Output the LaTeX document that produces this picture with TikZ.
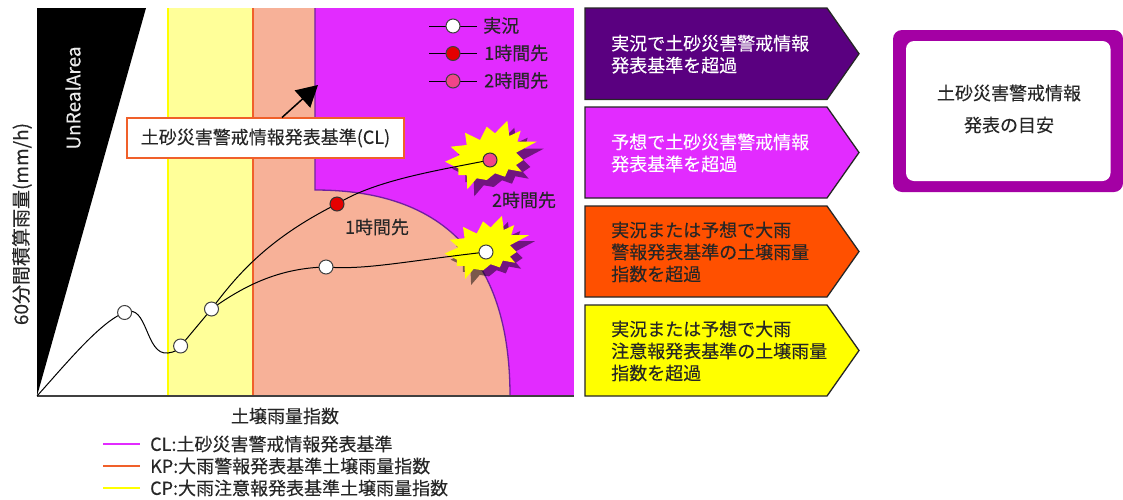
\documentclass[tikz,border=0pt]{standalone}
\usepackage{fontspec}
\setmainfont[FakeBold=0.15]{Noto Sans CJK JP}
\usetikzlibrary{arrows.meta,calc}
\pgfdeclarelayer{bg}
\pgfdeclarelayer{stars}
\pgfdeclarelayer{curves}
\pgfsetlayers{bg,stars,curves,main}
\definecolor{cMag}{HTML}{E22BFF}
\definecolor{cSal}{HTML}{F7B198}
\definecolor{cLY}{HTML}{FFFF99}
\definecolor{cY}{HTML}{FFFF00}
\definecolor{cOr}{HTML}{FF5000}
\definecolor{cDP}{HTML}{5A0080}
\definecolor{cBox}{HTML}{A400A4}
\definecolor{cTxt}{HTML}{262626}
\definecolor{cEdge}{HTML}{7020A0}
\definecolor{cLine}{HTML}{F0602A}
\newcommand{\burst}{(-25,-27.3)--(-10,-20)--(-3.3,-33.3)--(5,-26.7)--(17.3,-39.3)--(19.3,-24)--(30.7,-29.3)--(27.3,-18.3)--(46.7,-18.3)--(26,-7.3)--(33.3,0)--(26,5)--(31.7,11.7)--(18.3,9.3)--(15,16.7)--(5,13.3)--(-3.3,20)--(-13.3,18.3)--(-22.7,29.3)--(-23.3,15)--(-31.7,15)--(-31.7,8.3)--(-45,1.7)--(-30,-5)--(-39.3,-13.3)--(-23.3,-15)--cycle}
\newcommand{\chevron}[5]{%
  \path[draw=black!85,line width=1.3pt,fill=#3] (585,#1)--(827,#1)--(859,{(#1+#2)/2})--(827,#2)--(585,#2)--cycle;
  \node[arrowtxt,text=#4] (#5) at (611,{(#1+#2)/2+0.5})}
\tikzset{
  txt/.style={inner sep=0pt,font=\fontsize{18}{22}\selectfont,text=cTxt},
  arrowtxt/.style={txt,anchor=west,align=left},
  ptw/.style={circle,draw=black!75,line width=1pt,fill=white,minimum size=14pt,inner sep=0pt},
  ptr/.style={ptw,fill=red!90!black,draw=black!80},
  ptp/.style={ptw,fill=magenta!70!red!75!white,draw=black!80},
  curveline/.style={draw=black,line width=1pt},
  burstyl/.style={fill=cY},
  burstsh/.style={fill=black,fill opacity=.5},
  lgline/.style={line width=2.4pt},
  smallpt/.style={ptw,minimum size=14pt}
}
\begin{document}
\begin{tikzpicture}[x=1pt,y=-1pt]
\useasboundingbox (0,0) rectangle (1123,499);
\begin{pgfonlayer}{bg}
  \fill[white] (0,0) rectangle (1123,499);
  \fill[cLY] (168,8) rectangle (253,396);
  \fill[cMag] (253,8) rectangle (574,396);
  \fill[cSal] (253,8) -- (315,8) -- (315,190) .. controls (425,190) and (510,240) .. (510,396) -- (253,396) -- cycle;
  \draw[cY,line width=1.5pt] (168,8) -- (168,396);
  \draw[cLine,line width=1.5pt] (253,8) -- (253,396);
  \draw[cEdge,line width=1.3pt] (315,8) -- (315,190) .. controls (425,190) and (510,240) .. (510,396);
  \fill[black] (37,8) -- (146,8) -- (37,396) -- cycle;
  \draw[black!75,line width=1.5pt] (37,396) -- (574,396);
\end{pgfonlayer}
\begin{pgfonlayer}{stars}
  \begin{scope}[shift={(497,167)}]\path[burstsh] \burst;\end{scope}
  \begin{scope}[shift={(490,160)}]\path[burstyl] \burst;\end{scope}
  \begin{scope}[shift={(492,258)},scale=.92]\path[burstsh] \burst;\end{scope}
  \begin{scope}[shift={(486,252)},scale=.92]\path[burstyl] \burst;\end{scope}
\end{pgfonlayer}
% points
\coordinate (o) at (37,396);
\node[ptw] (p1) at (124.6,312.5) {};
\node[ptw] (p2) at (180.6,346) {};
\node[ptw] (p3) at (211.5,309) {};
\node[ptw] (p4) at (326,267) {};
\node[ptw] (p5) at (486,252) {};
\node[ptr] (p6) at (337,204) {};
\node[ptp] (p7) at (490,160) {};
\begin{pgfonlayer}{curves}
  \draw[curveline] (o) .. controls (65,365) and (100,322) .. (p1.center)
     .. controls (148,302) and (145,356) .. (168,353)
     .. controls (175,352) and (178,350) .. (p2.center);
  \draw[curveline] (p2.center) -- (p3.center);
  \draw[curveline] (p3.center) .. controls (235,278) and (265,240) .. (p6.center);
  \draw[curveline] (p6.center) .. controls (375,180) and (440,170) .. (p7.center);
  \draw[curveline] (p3.center) .. controls (245,285) and (280,268) .. (p4.center)
     .. controls (365,270) and (400,262) .. (p5.center);
\end{pgfonlayer}
% legend in chart
\node[smallpt] (la) at (453,26) {};
\node[smallpt,fill=red!90!black] (lb) at (453,53.5) {};
\node[smallpt,fill=magenta!70!red!75!white] (lc) at (453,81) {};
\coordinate (la1) at (429,26); \coordinate (la2) at (477,26);
\coordinate (lb1) at (429,53.5); \coordinate (lb2) at (477,53.5);
\coordinate (lc1) at (429,81); \coordinate (lc2) at (477,81);
\begin{pgfonlayer}{curves}
  \draw[curveline] (la1) -- (la2); \draw[curveline] (lb1) -- (lb2); \draw[curveline] (lc1) -- (lc2);
\end{pgfonlayer}
\node[txt,anchor=west] (lta) at (483,25.5) {実況};
\node[txt,anchor=west] (ltb) at (484,53) {1時間先};
\node[txt,anchor=west] (ltc) at (484,80.5) {2時間先};
% labels
\node[txt] (l1h) at (377,227) {1時間先};
\node[txt] (l2h) at (524,200) {2時間先};
\node[txt,rotate=90,anchor=center,font=\fontsize{19}{22}\selectfont] (ylab) at (22,224) {60分間積算雨量(mm/h)};
\node[txt,rotate=90,text=white!92!black,font=\fontsize{19}{22}\selectfont] (ura) at (73,98) {UnRealArea};
\node[txt] (xlab) at (285,416) {土壌雨量指数};
% callout
\node[draw=cLine,line width=1.2pt,fill=white,minimum width=277pt,minimum height=40pt,inner sep=0pt,txt] (cl) at (265.5,138) {土砂災害警戒情報発表基準(CL)};
\coordinate (clstart) at (282,117.5);
\coordinate (cltip) at (318,85);
\draw[-{Triangle[length=21pt,width=23pt]},line width=1.5pt,black] (clstart) -- (cltip);
% chevrons
\chevron{8}{99.5}{cDP}{white}{a1} {実況で土砂災害警戒情報\\発表基準を超過};
\chevron{107}{198}{cMag}{white}{a2} {予想で土砂災害警戒情報\\発表基準を超過};
\chevron{206}{297}{cOr}{cTxt}{a3} {実況または予想で大雨\\警報発表基準の土壌雨量\\指数を超過};
\chevron{305}{396}{cY}{cTxt}{a4} {実況または予想で大雨\\注意報発表基準の土壌雨量\\指数を超過};
% box
\path[fill=cBox,rounded corners=9pt] (893,30) rectangle (1123,192);
\path[fill=white,rounded corners=8pt] (906,41) rectangle (1110.5,181);
\node[txt,align=center,font=\fontsize{18}{32}\selectfont] (boxt) at (1009,109) {土砂災害警戒情報\\発表の目安};
% bottom legend
\coordinate (k1a) at (103,444); \coordinate (k1b) at (140,444);
\coordinate (k2a) at (103,466); \coordinate (k2b) at (140,466);
\coordinate (k3a) at (103,488); \coordinate (k3b) at (140,488);
\draw[lgline,cMag] (k1a) -- (k1b);
\draw[lgline,cLine] (k2a) -- (k2b);
\draw[lgline,cY] (k3a) -- (k3b);
\node[txt,anchor=west] (k1) at (150,444) {CL:土砂災害警戒情報発表基準};
\node[txt,anchor=west] (k2) at (150,466) {KP:大雨警報発表基準土壌雨量指数};
\node[txt,anchor=west] (k3) at (150,488) {CP:大雨注意報発表基準土壌雨量指数};
\end{tikzpicture}
\end{document}
